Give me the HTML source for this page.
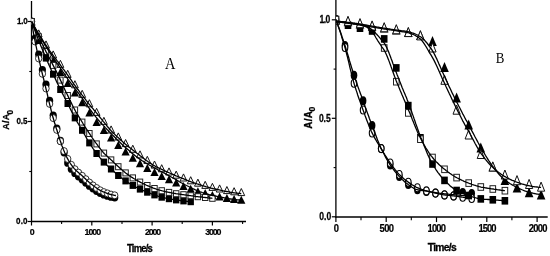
<!DOCTYPE html>
<html><head><meta charset="utf-8"><title>Figure</title>
<style>html,body{margin:0;padding:0;background:#fff;}svg{display:block;}</style>
</head><body>
<svg width="550" height="256" viewBox="0 0 550 256">
<rect width="550" height="256" fill="#fff"/>
<line x1="31.5" y1="1.0" x2="31.5" y2="222.1" stroke="#000" stroke-width="1.3"/>
<line x1="30.9" y1="221.5" x2="246.0" y2="221.5" stroke="#000" stroke-width="1.3"/>
<line x1="27.6" y1="21.5" x2="31.5" y2="21.5" stroke="#000" stroke-width="1.2"/>
<line x1="27.6" y1="121.5" x2="31.5" y2="121.5" stroke="#000" stroke-width="1.2"/>
<line x1="27.6" y1="221.5" x2="31.5" y2="221.5" stroke="#000" stroke-width="1.2"/>
<line x1="29.3" y1="171.5" x2="31.5" y2="171.5" stroke="#000" stroke-width="1.1"/>
<line x1="29.3" y1="71.5" x2="31.5" y2="71.5" stroke="#000" stroke-width="1.1"/>
<line x1="31.5" y1="221.5" x2="31.5" y2="225.5" stroke="#000" stroke-width="1.2"/>
<line x1="91.8" y1="221.5" x2="91.8" y2="225.5" stroke="#000" stroke-width="1.2"/>
<line x1="152.1" y1="221.5" x2="152.1" y2="225.5" stroke="#000" stroke-width="1.2"/>
<line x1="212.4" y1="221.5" x2="212.4" y2="225.5" stroke="#000" stroke-width="1.2"/>
<line x1="61.6" y1="221.5" x2="61.6" y2="224.0" stroke="#000" stroke-width="1.1"/>
<line x1="122.0" y1="221.5" x2="122.0" y2="224.0" stroke="#000" stroke-width="1.1"/>
<line x1="182.2" y1="221.5" x2="182.2" y2="224.0" stroke="#000" stroke-width="1.1"/>
<line x1="242.6" y1="221.5" x2="242.6" y2="224.0" stroke="#000" stroke-width="1.1"/>
<line x1="335.9" y1="0.0" x2="335.9" y2="217.6" stroke="#000" stroke-width="1.3"/>
<line x1="335.3" y1="217.0" x2="547.7" y2="217.0" stroke="#000" stroke-width="1.3"/>
<line x1="331.8" y1="19.8" x2="335.9" y2="19.8" stroke="#000" stroke-width="1.2"/>
<line x1="331.8" y1="118.3" x2="335.9" y2="118.3" stroke="#000" stroke-width="1.2"/>
<line x1="331.8" y1="216.8" x2="335.9" y2="216.8" stroke="#000" stroke-width="1.2"/>
<line x1="333.6" y1="167.6" x2="335.9" y2="167.6" stroke="#000" stroke-width="1.1"/>
<line x1="333.6" y1="69.1" x2="335.9" y2="69.1" stroke="#000" stroke-width="1.1"/>
<line x1="335.9" y1="217.0" x2="335.9" y2="222.1" stroke="#000" stroke-width="1.2"/>
<line x1="386.2" y1="217.0" x2="386.2" y2="222.1" stroke="#000" stroke-width="1.2"/>
<line x1="436.5" y1="217.0" x2="436.5" y2="222.1" stroke="#000" stroke-width="1.2"/>
<line x1="486.8" y1="217.0" x2="486.8" y2="222.1" stroke="#000" stroke-width="1.2"/>
<line x1="537.1" y1="217.0" x2="537.1" y2="222.1" stroke="#000" stroke-width="1.2"/>
<line x1="361.0" y1="217.0" x2="361.0" y2="220.2" stroke="#000" stroke-width="1.1"/>
<line x1="411.3" y1="217.0" x2="411.3" y2="220.2" stroke="#000" stroke-width="1.1"/>
<line x1="461.6" y1="217.0" x2="461.6" y2="220.2" stroke="#000" stroke-width="1.1"/>
<line x1="511.9" y1="217.0" x2="511.9" y2="220.2" stroke="#000" stroke-width="1.1"/>
<text transform="translate(17.09,24.2) scale(0.82,1)" font-family="'Liberation Sans', sans-serif" font-size="9.8" font-weight="bold" letter-spacing="-0.34" stroke="#000" stroke-width="0.25">1.0</text>
<text transform="translate(16.39,124.2) scale(0.82,1)" font-family="'Liberation Sans', sans-serif" font-size="9.8" font-weight="bold" letter-spacing="-0.09" stroke="#000" stroke-width="0.25">0.5</text>
<text transform="translate(16.09,224.2) scale(0.82,1)" font-family="'Liberation Sans', sans-serif" font-size="9.8" font-weight="bold" letter-spacing="0.09" stroke="#000" stroke-width="0.25">0.0</text>
<text transform="translate(29.76,235.0) scale(0.96,1)" font-family="'Liberation Sans', sans-serif" font-size="9.2" font-weight="bold" stroke="#000" stroke-width="0.2">0</text>
<text transform="translate(84.52,235.0) scale(0.96,1)" font-family="'Liberation Sans', sans-serif" font-size="9.2" font-weight="bold" letter-spacing="-1.05" stroke="#000" stroke-width="0.2">1000</text>
<text transform="translate(144.96,235.0) scale(0.96,1)" font-family="'Liberation Sans', sans-serif" font-size="9.2" font-weight="bold" letter-spacing="-1.17" stroke="#000" stroke-width="0.2">2000</text>
<text transform="translate(205.26,235.0) scale(0.96,1)" font-family="'Liberation Sans', sans-serif" font-size="9.2" font-weight="bold" letter-spacing="-1.17" stroke="#000" stroke-width="0.2">3000</text>
<text transform="translate(127.00,252.4) scale(0.88,1)" font-family="'Liberation Sans', sans-serif" font-size="10.7" font-weight="bold" letter-spacing="-0.88" stroke="#000" stroke-width="0.3">Time/s</text>
<text transform="translate(9.1,129.7) rotate(-90) scale(0.92,1)" font-family="'Liberation Sans', sans-serif" font-size="9.8" font-weight="bold" letter-spacing="0.19" stroke="#000" stroke-width="0.3">A/A</text>
<text transform="translate(12.8,114.4) rotate(-90) scale(0.95,1)" font-family="'Liberation Sans', sans-serif" font-size="8.6" font-weight="bold" stroke="#000" stroke-width="0.25">0</text>
<text transform="translate(165.08,69.2) scale(0.88,1)" font-family="'Liberation Serif', serif" font-size="16.4" font-weight="normal">A</text>
<text transform="translate(319.57,23.1) scale(0.84,1)" font-family="'Liberation Sans', sans-serif" font-size="10.2" font-weight="bold" letter-spacing="-0.79" stroke="#000" stroke-width="0.25">1.0</text>
<text transform="translate(318.88,121.6) scale(0.84,1)" font-family="'Liberation Sans', sans-serif" font-size="10.2" font-weight="bold" letter-spacing="-0.02" stroke="#000" stroke-width="0.25">0.5</text>
<text transform="translate(319.18,220.1) scale(0.84,1)" font-family="'Liberation Sans', sans-serif" font-size="10.2" font-weight="bold" letter-spacing="0.16" stroke="#000" stroke-width="0.25">0.0</text>
<text transform="translate(333.73,231.9) scale(0.94,1)" font-family="'Liberation Sans', sans-serif" font-size="10.0" font-weight="bold" stroke="#000" stroke-width="0.2">0</text>
<text transform="translate(379.53,231.9) scale(0.94,1)" font-family="'Liberation Sans', sans-serif" font-size="10.0" font-weight="bold" letter-spacing="-0.64" stroke="#000" stroke-width="0.2">500</text>
<text transform="translate(427.50,231.9) scale(0.94,1)" font-family="'Liberation Sans', sans-serif" font-size="10.0" font-weight="bold" letter-spacing="-0.87" stroke="#000" stroke-width="0.2">1000</text>
<text transform="translate(478.40,231.9) scale(0.94,1)" font-family="'Liberation Sans', sans-serif" font-size="10.0" font-weight="bold" letter-spacing="-1.01" stroke="#000" stroke-width="0.2">1500</text>
<text transform="translate(528.76,231.9) scale(0.94,1)" font-family="'Liberation Sans', sans-serif" font-size="10.0" font-weight="bold" letter-spacing="-0.78" stroke="#000" stroke-width="0.2">2000</text>
<text transform="translate(427.77,250.8) scale(0.92,1)" font-family="'Liberation Sans', sans-serif" font-size="11.2" font-weight="bold" letter-spacing="-0.77" stroke="#000" stroke-width="0.3">Time/s</text>
<text transform="translate(311.7,128.8) rotate(-90) scale(0.92,1)" font-family="'Liberation Sans', sans-serif" font-size="10.7" font-weight="bold" letter-spacing="0.36" stroke="#000" stroke-width="0.3">A/A</text>
<text transform="translate(314.6,111.4) rotate(-90) scale(0.95,1)" font-family="'Liberation Sans', sans-serif" font-size="9.0" font-weight="bold" stroke="#000" stroke-width="0.25">0</text>
<text transform="translate(495.78,63.1) scale(0.84,1)" font-family="'Liberation Serif', serif" font-size="15.4" font-weight="normal">B</text>
<clipPath id="ca"><rect x="31.5" y="0" width="215" height="221.5"/></clipPath><g clip-path="url(#ca)">
<path d="M31.5,17.5 L35.6,25.5 L27.4,25.5Z" fill="#000"/>
<path d="M38.7,31.5 L42.8,39.5 L34.6,39.5Z" fill="#000"/>
<path d="M46.0,44.5 L50.1,52.5 L41.9,52.5Z" fill="#000"/>
<path d="M53.2,56.5 L57.3,64.5 L49.1,64.5Z" fill="#000"/>
<path d="M60.4,68.0 L64.5,76.0 L56.3,76.0Z" fill="#000"/>
<path d="M67.7,78.9 L71.8,86.9 L63.6,86.9Z" fill="#000"/>
<path d="M74.9,88.5 L79.0,96.5 L70.8,96.5Z" fill="#000"/>
<path d="M82.2,98.3 L86.3,106.3 L78.1,106.3Z" fill="#000"/>
<path d="M89.4,108.5 L93.5,116.5 L85.3,116.5Z" fill="#000"/>
<path d="M96.6,117.9 L100.7,125.9 L92.5,125.9Z" fill="#000"/>
<path d="M103.9,126.1 L108.0,134.1 L99.8,134.1Z" fill="#000"/>
<path d="M111.1,133.5 L115.2,141.5 L107.0,141.5Z" fill="#000"/>
<path d="M118.3,140.9 L122.4,148.9 L114.2,148.9Z" fill="#000"/>
<path d="M125.6,147.5 L129.7,155.5 L121.5,155.5Z" fill="#000"/>
<path d="M132.8,153.8 L136.9,161.8 L128.7,161.8Z" fill="#000"/>
<path d="M140.0,159.3 L144.1,167.3 L135.9,167.3Z" fill="#000"/>
<path d="M147.3,163.9 L151.4,171.9 L143.2,171.9Z" fill="#000"/>
<path d="M154.5,167.9 L158.6,175.9 L150.4,175.9Z" fill="#000"/>
<path d="M161.7,171.9 L165.8,179.9 L157.6,179.9Z" fill="#000"/>
<path d="M169.0,175.2 L173.1,183.2 L164.9,183.2Z" fill="#000"/>
<path d="M176.2,178.5 L180.3,186.5 L172.1,186.5Z" fill="#000"/>
<path d="M183.5,181.9 L187.6,189.9 L179.4,189.9Z" fill="#000"/>
<path d="M190.7,184.7 L194.8,192.7 L186.6,192.7Z" fill="#000"/>
<path d="M197.9,187.3 L202.0,195.3 L193.8,195.3Z" fill="#000"/>
<path d="M205.2,189.1 L209.3,197.1 L201.1,197.1Z" fill="#000"/>
<path d="M212.4,190.9 L216.5,198.9 L208.3,198.9Z" fill="#000"/>
<path d="M219.6,192.4 L223.7,200.4 L215.5,200.4Z" fill="#000"/>
<path d="M226.9,193.9 L231.0,201.9 L222.8,201.9Z" fill="#000"/>
<path d="M234.1,195.0 L238.2,203.0 L230.0,203.0Z" fill="#000"/>
<path d="M241.3,195.7 L245.4,203.7 L237.2,203.7Z" fill="#000"/>
<path d="M31.5,17.9 L34.9,25.0 L28.1,25.0Z" fill="#fff" stroke="#111" stroke-width="1.0" stroke-linejoin="miter"/>
<path d="M38.7,29.9 L42.1,37.0 L35.3,37.0Z" fill="#fff" stroke="#111" stroke-width="1.0" stroke-linejoin="miter"/>
<path d="M46.0,40.9 L49.4,48.0 L42.6,48.0Z" fill="#fff" stroke="#111" stroke-width="1.0" stroke-linejoin="miter"/>
<path d="M53.2,50.9 L56.6,58.0 L49.8,58.0Z" fill="#fff" stroke="#111" stroke-width="1.0" stroke-linejoin="miter"/>
<path d="M60.4,60.3 L63.8,67.4 L57.0,67.4Z" fill="#fff" stroke="#111" stroke-width="1.0" stroke-linejoin="miter"/>
<path d="M67.7,70.3 L71.1,77.4 L64.3,77.4Z" fill="#fff" stroke="#111" stroke-width="1.0" stroke-linejoin="miter"/>
<path d="M74.9,80.7 L78.3,87.8 L71.5,87.8Z" fill="#fff" stroke="#111" stroke-width="1.0" stroke-linejoin="miter"/>
<path d="M82.2,90.3 L85.6,97.4 L78.8,97.4Z" fill="#fff" stroke="#111" stroke-width="1.0" stroke-linejoin="miter"/>
<path d="M89.4,99.7 L92.8,106.8 L86.0,106.8Z" fill="#fff" stroke="#111" stroke-width="1.0" stroke-linejoin="miter"/>
<path d="M96.6,108.3 L100.0,115.4 L93.2,115.4Z" fill="#fff" stroke="#111" stroke-width="1.0" stroke-linejoin="miter"/>
<path d="M103.9,117.3 L107.3,124.4 L100.5,124.4Z" fill="#fff" stroke="#111" stroke-width="1.0" stroke-linejoin="miter"/>
<path d="M111.1,125.9 L114.5,133.0 L107.7,133.0Z" fill="#fff" stroke="#111" stroke-width="1.0" stroke-linejoin="miter"/>
<path d="M118.3,132.9 L121.7,140.0 L114.9,140.0Z" fill="#fff" stroke="#111" stroke-width="1.0" stroke-linejoin="miter"/>
<path d="M125.6,139.5 L129.0,146.6 L122.2,146.6Z" fill="#fff" stroke="#111" stroke-width="1.0" stroke-linejoin="miter"/>
<path d="M132.8,145.2 L136.2,152.3 L129.4,152.3Z" fill="#fff" stroke="#111" stroke-width="1.0" stroke-linejoin="miter"/>
<path d="M140.0,150.8 L143.4,157.9 L136.6,157.9Z" fill="#fff" stroke="#111" stroke-width="1.0" stroke-linejoin="miter"/>
<path d="M147.3,156.3 L150.7,163.4 L143.9,163.4Z" fill="#fff" stroke="#111" stroke-width="1.0" stroke-linejoin="miter"/>
<path d="M154.5,161.0 L157.9,168.1 L151.1,168.1Z" fill="#fff" stroke="#111" stroke-width="1.0" stroke-linejoin="miter"/>
<path d="M161.7,164.7 L165.1,171.8 L158.3,171.8Z" fill="#fff" stroke="#111" stroke-width="1.0" stroke-linejoin="miter"/>
<path d="M169.0,167.9 L172.4,175.0 L165.6,175.0Z" fill="#fff" stroke="#111" stroke-width="1.0" stroke-linejoin="miter"/>
<path d="M176.2,171.1 L179.6,178.2 L172.8,178.2Z" fill="#fff" stroke="#111" stroke-width="1.0" stroke-linejoin="miter"/>
<path d="M183.5,173.9 L186.9,181.0 L180.1,181.0Z" fill="#fff" stroke="#111" stroke-width="1.0" stroke-linejoin="miter"/>
<path d="M190.7,176.7 L194.1,183.8 L187.3,183.8Z" fill="#fff" stroke="#111" stroke-width="1.0" stroke-linejoin="miter"/>
<path d="M197.9,179.1 L201.3,186.2 L194.5,186.2Z" fill="#fff" stroke="#111" stroke-width="1.0" stroke-linejoin="miter"/>
<path d="M205.2,181.3 L208.6,188.4 L201.8,188.4Z" fill="#fff" stroke="#111" stroke-width="1.0" stroke-linejoin="miter"/>
<path d="M212.4,183.3 L215.8,190.4 L209.0,190.4Z" fill="#fff" stroke="#111" stroke-width="1.0" stroke-linejoin="miter"/>
<path d="M219.6,184.9 L223.0,192.0 L216.2,192.0Z" fill="#fff" stroke="#111" stroke-width="1.0" stroke-linejoin="miter"/>
<path d="M226.9,186.5 L230.3,193.6 L223.5,193.6Z" fill="#fff" stroke="#111" stroke-width="1.0" stroke-linejoin="miter"/>
<path d="M234.1,187.7 L237.5,194.8 L230.7,194.8Z" fill="#fff" stroke="#111" stroke-width="1.0" stroke-linejoin="miter"/>
<path d="M241.3,188.5 L244.7,195.6 L237.9,195.6Z" fill="#fff" stroke="#111" stroke-width="1.0" stroke-linejoin="miter"/>
<ellipse cx="31.5" cy="21.5" rx="3.6" ry="3.9" fill="#000"/>
<ellipse cx="35.1" cy="38.5" rx="3.6" ry="3.9" fill="#000"/>
<ellipse cx="38.7" cy="54.5" rx="3.6" ry="3.9" fill="#000"/>
<ellipse cx="42.4" cy="69.8" rx="3.6" ry="3.9" fill="#000"/>
<ellipse cx="46.0" cy="84.5" rx="3.6" ry="3.9" fill="#000"/>
<ellipse cx="49.6" cy="100.7" rx="3.6" ry="3.9" fill="#000"/>
<ellipse cx="53.2" cy="115.5" rx="3.6" ry="3.9" fill="#000"/>
<ellipse cx="56.8" cy="128.3" rx="3.6" ry="3.9" fill="#000"/>
<ellipse cx="60.4" cy="140.7" rx="3.6" ry="3.9" fill="#000"/>
<ellipse cx="64.1" cy="152.5" rx="3.6" ry="3.9" fill="#000"/>
<ellipse cx="67.7" cy="162.9" rx="3.6" ry="3.9" fill="#000"/>
<ellipse cx="71.3" cy="168.9" rx="3.6" ry="3.9" fill="#000"/>
<ellipse cx="74.9" cy="173.2" rx="3.6" ry="3.9" fill="#000"/>
<ellipse cx="78.5" cy="176.6" rx="3.6" ry="3.9" fill="#000"/>
<ellipse cx="82.2" cy="179.6" rx="3.6" ry="3.9" fill="#000"/>
<ellipse cx="85.8" cy="182.8" rx="3.6" ry="3.9" fill="#000"/>
<ellipse cx="89.4" cy="185.9" rx="3.6" ry="3.9" fill="#000"/>
<ellipse cx="93.0" cy="188.5" rx="3.6" ry="3.9" fill="#000"/>
<ellipse cx="96.6" cy="191.0" rx="3.6" ry="3.9" fill="#000"/>
<ellipse cx="100.2" cy="193.1" rx="3.6" ry="3.9" fill="#000"/>
<ellipse cx="103.9" cy="194.7" rx="3.6" ry="3.9" fill="#000"/>
<ellipse cx="107.5" cy="195.9" rx="3.6" ry="3.9" fill="#000"/>
<ellipse cx="111.1" cy="196.9" rx="3.6" ry="3.9" fill="#000"/>
<ellipse cx="114.7" cy="197.6" rx="3.6" ry="3.9" fill="#000"/>
<ellipse cx="31.5" cy="21.5" rx="3.2" ry="3.5" fill="#fff" stroke="#000" stroke-width="0.8"/>
<ellipse cx="35.1" cy="41.5" rx="3.2" ry="3.5" fill="#fff" stroke="#000" stroke-width="0.8"/>
<ellipse cx="38.7" cy="58.5" rx="3.2" ry="3.5" fill="#fff" stroke="#000" stroke-width="0.8"/>
<ellipse cx="42.4" cy="73.8" rx="3.2" ry="3.5" fill="#fff" stroke="#000" stroke-width="0.8"/>
<ellipse cx="46.0" cy="88.5" rx="3.2" ry="3.5" fill="#fff" stroke="#000" stroke-width="0.8"/>
<ellipse cx="49.6" cy="103.9" rx="3.2" ry="3.5" fill="#fff" stroke="#000" stroke-width="0.8"/>
<ellipse cx="53.2" cy="118.1" rx="3.2" ry="3.5" fill="#fff" stroke="#000" stroke-width="0.8"/>
<ellipse cx="56.8" cy="129.9" rx="3.2" ry="3.5" fill="#fff" stroke="#000" stroke-width="0.8"/>
<ellipse cx="60.4" cy="141.3" rx="3.2" ry="3.5" fill="#fff" stroke="#000" stroke-width="0.8"/>
<ellipse cx="64.1" cy="151.1" rx="3.2" ry="3.5" fill="#fff" stroke="#000" stroke-width="0.8"/>
<ellipse cx="67.7" cy="158.9" rx="3.2" ry="3.5" fill="#fff" stroke="#000" stroke-width="0.8"/>
<ellipse cx="71.3" cy="164.8" rx="3.2" ry="3.5" fill="#fff" stroke="#000" stroke-width="0.8"/>
<ellipse cx="74.9" cy="169.2" rx="3.2" ry="3.5" fill="#fff" stroke="#000" stroke-width="0.8"/>
<ellipse cx="78.5" cy="172.6" rx="3.2" ry="3.5" fill="#fff" stroke="#000" stroke-width="0.8"/>
<ellipse cx="82.2" cy="175.8" rx="3.2" ry="3.5" fill="#fff" stroke="#000" stroke-width="0.8"/>
<ellipse cx="85.8" cy="179.2" rx="3.2" ry="3.5" fill="#fff" stroke="#000" stroke-width="0.8"/>
<ellipse cx="89.4" cy="182.5" rx="3.2" ry="3.5" fill="#fff" stroke="#000" stroke-width="0.8"/>
<ellipse cx="93.0" cy="185.4" rx="3.2" ry="3.5" fill="#fff" stroke="#000" stroke-width="0.8"/>
<ellipse cx="96.6" cy="188.0" rx="3.2" ry="3.5" fill="#fff" stroke="#000" stroke-width="0.8"/>
<ellipse cx="100.2" cy="190.3" rx="3.2" ry="3.5" fill="#fff" stroke="#000" stroke-width="0.8"/>
<ellipse cx="103.9" cy="192.1" rx="3.2" ry="3.5" fill="#fff" stroke="#000" stroke-width="0.8"/>
<ellipse cx="107.5" cy="193.4" rx="3.2" ry="3.5" fill="#fff" stroke="#000" stroke-width="0.8"/>
<ellipse cx="111.1" cy="194.6" rx="3.2" ry="3.5" fill="#fff" stroke="#000" stroke-width="0.8"/>
<ellipse cx="114.7" cy="195.3" rx="3.2" ry="3.5" fill="#fff" stroke="#000" stroke-width="0.8"/>
<rect x="28.3" y="18.0" width="6.4" height="7.0" fill="#000"/>
<rect x="35.5" y="37.0" width="6.4" height="7.0" fill="#000"/>
<rect x="42.8" y="54.6" width="6.4" height="7.0" fill="#000"/>
<rect x="50.0" y="70.7" width="6.4" height="7.0" fill="#000"/>
<rect x="57.2" y="86.0" width="6.4" height="7.0" fill="#000"/>
<rect x="64.5" y="100.0" width="6.4" height="7.0" fill="#000"/>
<rect x="71.7" y="114.4" width="6.4" height="7.0" fill="#000"/>
<rect x="79.0" y="126.8" width="6.4" height="7.0" fill="#000"/>
<rect x="86.2" y="139.4" width="6.4" height="7.0" fill="#000"/>
<rect x="93.4" y="150.0" width="6.4" height="7.0" fill="#000"/>
<rect x="100.7" y="158.6" width="6.4" height="7.0" fill="#000"/>
<rect x="107.9" y="165.5" width="6.4" height="7.0" fill="#000"/>
<rect x="115.1" y="172.0" width="6.4" height="7.0" fill="#000"/>
<rect x="122.4" y="177.4" width="6.4" height="7.0" fill="#000"/>
<rect x="129.6" y="181.9" width="6.4" height="7.0" fill="#000"/>
<rect x="136.8" y="185.6" width="6.4" height="7.0" fill="#000"/>
<rect x="144.1" y="188.7" width="6.4" height="7.0" fill="#000"/>
<rect x="151.3" y="191.4" width="6.4" height="7.0" fill="#000"/>
<rect x="158.5" y="193.7" width="6.4" height="7.0" fill="#000"/>
<rect x="165.8" y="195.2" width="6.4" height="7.0" fill="#000"/>
<rect x="173.0" y="196.4" width="6.4" height="7.0" fill="#000"/>
<rect x="180.3" y="197.4" width="6.4" height="7.0" fill="#000"/>
<rect x="187.5" y="198.2" width="6.4" height="7.0" fill="#000"/>
<rect x="28.8" y="18.5" width="5.4" height="6.0" fill="#fff" stroke="#222" stroke-width="1.0"/>
<rect x="36.0" y="33.8" width="5.4" height="6.0" fill="#fff" stroke="#222" stroke-width="1.0"/>
<rect x="43.3" y="48.5" width="5.4" height="6.0" fill="#fff" stroke="#222" stroke-width="1.0"/>
<rect x="50.5" y="62.4" width="5.4" height="6.0" fill="#fff" stroke="#222" stroke-width="1.0"/>
<rect x="57.7" y="77.1" width="5.4" height="6.0" fill="#fff" stroke="#222" stroke-width="1.0"/>
<rect x="65.0" y="92.5" width="5.4" height="6.0" fill="#fff" stroke="#222" stroke-width="1.0"/>
<rect x="72.2" y="107.0" width="5.4" height="6.0" fill="#fff" stroke="#222" stroke-width="1.0"/>
<rect x="79.5" y="119.1" width="5.4" height="6.0" fill="#fff" stroke="#222" stroke-width="1.0"/>
<rect x="86.7" y="130.5" width="5.4" height="6.0" fill="#fff" stroke="#222" stroke-width="1.0"/>
<rect x="93.9" y="140.9" width="5.4" height="6.0" fill="#fff" stroke="#222" stroke-width="1.0"/>
<rect x="101.2" y="150.1" width="5.4" height="6.0" fill="#fff" stroke="#222" stroke-width="1.0"/>
<rect x="108.4" y="156.9" width="5.4" height="6.0" fill="#fff" stroke="#222" stroke-width="1.0"/>
<rect x="115.6" y="163.7" width="5.4" height="6.0" fill="#fff" stroke="#222" stroke-width="1.0"/>
<rect x="122.9" y="169.9" width="5.4" height="6.0" fill="#fff" stroke="#222" stroke-width="1.0"/>
<rect x="130.1" y="174.9" width="5.4" height="6.0" fill="#fff" stroke="#222" stroke-width="1.0"/>
<rect x="137.3" y="179.1" width="5.4" height="6.0" fill="#fff" stroke="#222" stroke-width="1.0"/>
<rect x="144.6" y="182.5" width="5.4" height="6.0" fill="#fff" stroke="#222" stroke-width="1.0"/>
<rect x="151.8" y="185.5" width="5.4" height="6.0" fill="#fff" stroke="#222" stroke-width="1.0"/>
<rect x="159.0" y="187.7" width="5.4" height="6.0" fill="#fff" stroke="#222" stroke-width="1.0"/>
<rect x="166.3" y="189.4" width="5.4" height="6.0" fill="#fff" stroke="#222" stroke-width="1.0"/>
<rect x="173.5" y="190.7" width="5.4" height="6.0" fill="#fff" stroke="#222" stroke-width="1.0"/>
<rect x="180.8" y="191.7" width="5.4" height="6.0" fill="#fff" stroke="#222" stroke-width="1.0"/>
<rect x="188.0" y="192.7" width="5.4" height="6.0" fill="#fff" stroke="#222" stroke-width="1.0"/>
<rect x="195.2" y="193.7" width="5.4" height="6.0" fill="#fff" stroke="#222" stroke-width="1.0"/>
<rect x="202.5" y="194.5" width="5.4" height="6.0" fill="#fff" stroke="#222" stroke-width="1.0"/>
<rect x="209.7" y="195.3" width="5.4" height="6.0" fill="#fff" stroke="#222" stroke-width="1.0"/>
<rect x="28.8" y="18.5" width="5.4" height="6.0" fill="#fff" stroke="#222" stroke-width="1.0"/>
<path d="M31.5,21.5 L32.6,23.5 L33.6,25.4 L34.7,27.3 L35.7,29.2 L36.8,31.1 L37.8,33.0 L38.9,34.8 L39.9,36.6 L41.0,38.4 L42.0,40.2 L43.1,41.9 L44.2,43.6 L45.2,45.4 L46.3,47.0 L47.3,48.7 L48.4,50.3 L49.4,52.0 L50.5,53.6 L51.5,55.1 L52.6,56.7 L53.6,58.3 L54.7,59.9 L55.8,61.4 L56.8,62.9 L57.9,64.5 L58.9,66.0 L60.0,67.5 L61.0,69.0 L62.1,70.5 L63.1,72.1 L64.2,73.7 L65.2,75.3 L66.3,76.9 L67.4,78.4 L68.4,79.9 L69.5,81.3 L70.5,82.7 L71.6,84.1 L72.6,85.5 L73.7,86.9 L74.7,88.3 L75.8,89.7 L76.8,91.1 L77.9,92.5 L79.0,93.9 L80.0,95.4 L81.1,96.8 L82.1,98.2 L83.2,99.7 L84.2,101.2 L85.3,102.7 L86.3,104.2 L87.4,105.7 L88.4,107.2 L89.5,108.6 L90.6,110.1 L91.6,111.5 L92.7,112.9 L93.7,114.3 L94.8,115.6 L95.8,116.9 L96.9,118.2 L97.9,119.5 L99.0,120.7 L100.0,121.9 L101.1,123.1 L102.2,124.2 L103.2,125.4 L104.3,126.5 L105.3,127.6 L106.4,128.7 L107.4,129.8 L108.5,130.9 L109.5,131.9 L110.6,133.0 L111.6,134.1 L112.7,135.2 L113.8,136.3 L114.8,137.3 L115.9,138.4 L116.9,139.5 L118.0,140.5 L119.0,141.6 L120.1,142.6 L121.1,143.5 L122.2,144.5 L123.2,145.4 L124.3,146.4 L125.3,147.3 L126.4,148.2 L127.5,149.2 L128.5,150.1 L129.6,151.1 L130.6,152.0 L131.7,152.9 L132.7,153.7 L133.8,154.6 L134.8,155.4 L135.9,156.3 L136.9,157.1 L138.0,157.8 L139.1,158.6 L140.1,159.4 L141.2,160.1 L142.2,160.8 L143.3,161.4 L144.3,162.1 L145.4,162.8 L146.4,163.4 L147.5,164.0 L148.5,164.6 L149.6,165.2 L150.7,165.8 L151.7,166.4 L152.8,166.9 L153.8,167.5 L154.9,168.1 L155.9,168.7 L157.0,169.3 L158.0,169.9 L159.1,170.5 L160.1,171.1 L161.2,171.6 L162.3,172.2 L163.3,172.7 L164.4,173.2 L165.4,173.7 L166.5,174.3 L167.5,174.9 L168.6,175.5 L169.6,176.1 L170.7,176.7 L171.7,177.3 L172.8,177.9 L173.9,178.4 L174.9,179.0 L176.0,179.6 L177.0,180.2 L178.1,180.9 L179.1,181.5 L180.2,182.1 L181.2,182.7 L182.3,183.3 L183.3,183.9 L184.4,184.5 L185.5,185.0 L186.5,185.5 L187.6,186.0 L188.6,186.5 L189.7,187.0 L190.7,187.5 L191.8,188.1 L192.8,188.6 L193.9,189.1 L194.9,189.6 L196.0,190.1 L197.1,190.5 L198.1,191.0 L199.2,191.4 L200.2,191.8 L201.3,192.1 L202.3,192.5 L203.4,192.9 L204.4,193.2 L205.5,193.6 L206.5,193.9 L207.6,194.2 L208.7,194.5 L209.7,194.8 L210.8,195.0 L211.8,195.3 L212.9,195.5 L213.9,195.7 L215.0,196.0 L216.0,196.2 L217.1,196.4 L218.1,196.6 L219.2,196.8 L220.3,197.0 L221.3,197.3 L222.4,197.5 L223.4,197.7 L224.5,197.9 L225.5,198.1 L226.6,198.3 L227.6,198.5 L228.7,198.7 L229.7,198.9 L230.8,199.0 L231.9,199.2 L232.9,199.3 L234.0,199.5 L235.0,199.6 L236.1,199.7 L237.1,199.8 L238.2,199.9 L239.2,200.0 L240.3,200.1 L241.3,200.2" fill="none" stroke="#000" stroke-width="1.3" stroke-linejoin="round"/>
<path d="M31.5,21.5 L32.6,23.4 L33.6,25.2 L34.7,27.0 L35.7,28.8 L36.8,30.6 L37.8,32.4 L38.9,34.1 L39.9,35.8 L41.0,37.5 L42.0,39.2 L43.1,40.8 L44.2,42.5 L45.2,44.1 L46.3,45.7 L47.3,47.2 L48.4,48.7 L49.4,50.3 L50.5,51.8 L51.5,53.2 L52.6,54.7 L53.6,56.2 L54.7,57.6 L55.8,59.0 L56.8,60.4 L57.9,61.7 L58.9,63.1 L60.0,64.5 L61.0,65.9 L62.1,67.3 L63.1,68.8 L64.2,70.2 L65.2,71.7 L66.3,73.2 L67.4,74.6 L68.4,76.1 L69.5,77.7 L70.5,79.2 L71.6,80.7 L72.6,82.3 L73.7,83.8 L74.7,85.2 L75.8,86.7 L76.8,88.1 L77.9,89.5 L79.0,90.9 L80.0,92.3 L81.1,93.7 L82.1,95.1 L83.2,96.4 L84.2,97.8 L85.3,99.2 L86.3,100.6 L87.4,102.0 L88.4,103.3 L89.5,104.6 L90.6,105.9 L91.6,107.2 L92.7,108.4 L93.7,109.7 L94.8,110.9 L95.8,112.1 L96.9,113.4 L97.9,114.7 L99.0,116.0 L100.0,117.3 L101.1,118.7 L102.2,120.0 L103.2,121.3 L104.3,122.6 L105.3,123.9 L106.4,125.2 L107.4,126.5 L108.5,127.7 L109.5,129.0 L110.6,130.1 L111.6,131.3 L112.7,132.4 L113.8,133.4 L114.8,134.4 L115.9,135.4 L116.9,136.4 L118.0,137.4 L119.0,138.3 L120.1,139.3 L121.1,140.3 L122.2,141.3 L123.2,142.3 L124.3,143.2 L125.3,144.1 L126.4,145.0 L127.5,145.9 L128.5,146.7 L129.6,147.5 L130.6,148.3 L131.7,149.1 L132.7,149.9 L133.8,150.8 L134.8,151.6 L135.9,152.4 L136.9,153.2 L138.0,154.0 L139.1,154.8 L140.1,155.7 L141.2,156.5 L142.2,157.3 L143.3,158.1 L144.3,158.9 L145.4,159.7 L146.4,160.5 L147.5,161.3 L148.5,162.0 L149.6,162.7 L150.7,163.4 L151.7,164.1 L152.8,164.8 L153.8,165.4 L154.9,166.0 L155.9,166.6 L157.0,167.2 L158.0,167.7 L159.1,168.2 L160.1,168.7 L161.2,169.2 L162.3,169.7 L163.3,170.2 L164.4,170.7 L165.4,171.2 L166.5,171.6 L167.5,172.1 L168.6,172.5 L169.6,173.0 L170.7,173.5 L171.7,173.9 L172.8,174.4 L173.9,174.9 L174.9,175.3 L176.0,175.8 L177.0,176.2 L178.1,176.7 L179.1,177.1 L180.2,177.5 L181.2,177.9 L182.3,178.3 L183.3,178.7 L184.4,179.2 L185.5,179.6 L186.5,180.0 L187.6,180.5 L188.6,180.9 L189.7,181.3 L190.7,181.7 L191.8,182.1 L192.8,182.5 L193.9,182.8 L194.9,183.2 L196.0,183.5 L197.1,183.9 L198.1,184.2 L199.2,184.6 L200.2,184.9 L201.3,185.2 L202.3,185.6 L203.4,185.9 L204.4,186.2 L205.5,186.5 L206.5,186.8 L207.6,187.1 L208.7,187.4 L209.7,187.7 L210.8,188.0 L211.8,188.3 L212.9,188.5 L213.9,188.8 L215.0,189.0 L216.0,189.2 L217.1,189.5 L218.1,189.7 L219.2,189.9 L220.3,190.1 L221.3,190.4 L222.4,190.6 L223.4,190.9 L224.5,191.1 L225.5,191.3 L226.6,191.5 L227.6,191.7 L228.7,191.9 L229.7,192.1 L230.8,192.3 L231.9,192.5 L232.9,192.6 L234.0,192.8 L235.0,192.9 L236.1,193.1 L237.1,193.2 L238.2,193.3 L239.2,193.4 L240.3,193.5 L241.3,193.6" fill="none" stroke="#000" stroke-width="1.3" stroke-linejoin="round"/>
<path d="M31.5,21.5 L31.9,24.0 L32.3,26.5 L32.8,28.9 L33.2,31.3 L33.6,33.6 L34.0,35.9 L34.5,38.2 L34.9,40.4 L35.3,42.5 L35.7,44.6 L36.2,46.7 L36.6,48.7 L37.0,50.7 L37.4,52.7 L37.9,54.6 L38.3,56.5 L38.7,58.4 L39.1,60.3 L39.6,62.1 L40.0,63.9 L40.4,65.7 L40.8,67.5 L41.3,69.3 L41.7,71.0 L42.1,72.8 L42.5,74.5 L43.0,76.3 L43.4,78.0 L43.8,79.7 L44.2,81.4 L44.7,83.1 L45.1,84.8 L45.5,86.6 L45.9,88.3 L46.3,90.1 L46.8,91.9 L47.2,93.7 L47.6,95.5 L48.0,97.4 L48.5,99.2 L48.9,101.0 L49.3,102.8 L49.7,104.5 L50.2,106.3 L50.6,108.0 L51.0,109.7 L51.4,111.4 L51.9,113.1 L52.3,114.7 L52.7,116.3 L53.1,117.8 L53.6,119.3 L54.0,120.8 L54.4,122.2 L54.8,123.6 L55.3,124.9 L55.7,126.3 L56.1,127.6 L56.5,129.0 L57.0,130.3 L57.4,131.7 L57.8,133.0 L58.2,134.4 L58.7,135.8 L59.1,137.1 L59.5,138.5 L59.9,139.8 L60.3,141.0 L60.8,142.3 L61.2,143.5 L61.6,144.7 L62.0,145.9 L62.5,147.0 L62.9,148.1 L63.3,149.3 L63.7,150.3 L64.2,151.3 L64.6,152.4 L65.0,153.3 L65.4,154.3 L65.9,155.3 L66.3,156.2 L66.7,157.0 L67.1,157.9 L67.6,158.7 L68.0,159.4 L68.4,160.2 L68.8,160.9 L69.3,161.6 L69.7,162.3 L70.1,163.0 L70.5,163.6 L71.0,164.3 L71.4,164.9 L71.8,165.5 L72.2,166.0 L72.6,166.6 L73.1,167.1 L73.5,167.7 L73.9,168.1 L74.3,168.6 L74.8,169.1 L75.2,169.5 L75.6,170.0 L76.0,170.4 L76.5,170.8 L76.9,171.2 L77.3,171.6 L77.7,171.9 L78.2,172.3 L78.6,172.7 L79.0,173.1 L79.4,173.4 L79.9,173.8 L80.3,174.1 L80.7,174.5 L81.1,174.9 L81.6,175.2 L82.0,175.6 L82.4,176.0 L82.8,176.4 L83.3,176.8 L83.7,177.2 L84.1,177.6 L84.5,178.0 L85.0,178.4 L85.4,178.8 L85.8,179.2 L86.2,179.6 L86.6,180.0 L87.1,180.4 L87.5,180.8 L87.9,181.2 L88.3,181.6 L88.8,182.0 L89.2,182.4 L89.6,182.7 L90.0,183.1 L90.5,183.4 L90.9,183.8 L91.3,184.1 L91.7,184.5 L92.2,184.8 L92.6,185.1 L93.0,185.4 L93.4,185.7 L93.9,186.0 L94.3,186.4 L94.7,186.7 L95.1,187.0 L95.6,187.3 L96.0,187.6 L96.4,187.9 L96.8,188.2 L97.3,188.5 L97.7,188.7 L98.1,189.0 L98.5,189.3 L99.0,189.6 L99.4,189.8 L99.8,190.1 L100.2,190.3 L100.6,190.6 L101.1,190.8 L101.5,191.0 L101.9,191.2 L102.3,191.4 L102.8,191.6 L103.2,191.8 L103.6,192.0 L104.0,192.2 L104.5,192.3 L104.9,192.5 L105.3,192.7 L105.7,192.8 L106.2,193.0 L106.6,193.1 L107.0,193.3 L107.4,193.4 L107.9,193.6 L108.3,193.7 L108.7,193.9 L109.1,194.0 L109.6,194.1 L110.0,194.3 L110.4,194.4 L110.8,194.5 L111.3,194.6 L111.7,194.7 L112.1,194.8 L112.5,194.9 L113.0,195.0 L113.4,195.1 L113.8,195.2 L114.2,195.3 L114.6,195.3 L115.1,195.4 L115.5,195.5 L115.9,195.5" fill="none" stroke="#000" stroke-width="1.3" stroke-linejoin="round"/>
<path d="M31.5,21.5 L32.3,23.7 L33.1,25.8 L33.9,28.0 L34.7,30.1 L35.5,32.2 L36.3,34.3 L37.1,36.3 L37.9,38.4 L38.7,40.4 L39.5,42.4 L40.3,44.4 L41.1,46.4 L41.9,48.3 L42.7,50.3 L43.5,52.2 L44.3,54.1 L45.1,56.0 L45.9,57.9 L46.7,59.8 L47.5,61.6 L48.3,63.4 L49.1,65.2 L49.9,67.0 L50.7,68.7 L51.5,70.5 L52.3,72.2 L53.1,74.0 L53.9,75.7 L54.7,77.4 L55.5,79.1 L56.3,80.9 L57.1,82.6 L57.9,84.2 L58.7,85.9 L59.5,87.6 L60.3,89.2 L61.1,90.8 L61.9,92.4 L62.7,93.9 L63.5,95.5 L64.3,97.0 L65.1,98.5 L65.9,100.1 L66.7,101.6 L67.5,103.1 L68.3,104.7 L69.1,106.3 L69.9,108.0 L70.7,109.6 L71.5,111.2 L72.3,112.8 L73.1,114.4 L73.9,116.0 L74.7,117.5 L75.5,119.0 L76.3,120.4 L77.1,121.8 L77.9,123.1 L78.7,124.5 L79.5,125.8 L80.3,127.2 L81.1,128.5 L81.9,129.9 L82.7,131.2 L83.5,132.7 L84.3,134.1 L85.1,135.5 L85.9,136.9 L86.7,138.4 L87.5,139.8 L88.3,141.1 L89.1,142.4 L89.9,143.7 L90.7,145.0 L91.5,146.2 L92.3,147.4 L93.1,148.6 L93.9,149.7 L94.7,150.9 L95.5,152.0 L96.3,153.1 L97.1,154.1 L97.9,155.1 L98.7,156.1 L99.5,157.1 L100.3,158.1 L101.1,159.0 L101.9,160.0 L102.7,160.8 L103.5,161.7 L104.3,162.6 L105.1,163.4 L105.9,164.2 L106.7,164.9 L107.5,165.7 L108.3,166.4 L109.1,167.2 L109.9,167.9 L110.7,168.6 L111.5,169.4 L112.3,170.1 L113.1,170.9 L113.9,171.6 L114.7,172.3 L115.5,173.1 L116.3,173.8 L117.1,174.5 L117.9,175.1 L118.7,175.8 L119.5,176.4 L120.3,177.1 L121.1,177.7 L121.9,178.3 L122.7,178.9 L123.5,179.5 L124.3,180.0 L125.1,180.6 L125.9,181.1 L126.7,181.7 L127.5,182.2 L128.3,182.7 L129.1,183.2 L129.9,183.7 L130.7,184.2 L131.5,184.6 L132.3,185.1 L133.1,185.5 L133.9,186.0 L134.7,186.4 L135.5,186.8 L136.3,187.3 L137.1,187.7 L137.9,188.1 L138.7,188.5 L139.5,188.8 L140.3,189.2 L141.1,189.6 L141.9,189.9 L142.7,190.3 L143.5,190.6 L144.3,191.0 L145.1,191.3 L145.9,191.7 L146.7,192.0 L147.5,192.3 L148.3,192.6 L149.1,192.9 L149.9,193.2 L150.7,193.5 L151.5,193.8 L152.3,194.1 L153.1,194.4 L153.9,194.7 L154.7,195.0 L155.5,195.2 L156.3,195.5 L157.1,195.8 L157.9,196.1 L158.7,196.3 L159.5,196.6 L160.3,196.8 L161.1,197.0 L161.9,197.2 L162.7,197.4 L163.5,197.6 L164.3,197.8 L165.1,198.0 L165.9,198.1 L166.7,198.3 L167.5,198.4 L168.3,198.6 L169.1,198.7 L169.9,198.9 L170.7,199.0 L171.5,199.1 L172.3,199.3 L173.1,199.4 L173.9,199.5 L174.7,199.7 L175.5,199.8 L176.3,199.9 L177.1,200.0 L177.9,200.1 L178.7,200.3 L179.5,200.4 L180.3,200.5 L181.1,200.6 L181.9,200.7 L182.7,200.8 L183.5,200.9 L184.3,201.0 L185.1,201.1 L185.9,201.2 L186.7,201.3 L187.5,201.4 L188.3,201.5 L189.1,201.5 L189.9,201.6 L190.7,201.7" fill="none" stroke="#000" stroke-width="1.3" stroke-linejoin="round"/>
<path d="M31.5,21.5 L32.4,23.5 L33.3,25.4 L34.2,27.3 L35.1,29.2 L36.0,31.2 L37.0,33.1 L37.9,35.0 L38.8,36.9 L39.7,38.7 L40.6,40.6 L41.5,42.5 L42.4,44.3 L43.3,46.2 L44.2,48.0 L45.1,49.8 L46.0,51.6 L47.0,53.4 L47.9,55.2 L48.8,57.0 L49.7,58.7 L50.6,60.4 L51.5,62.2 L52.4,63.9 L53.3,65.6 L54.2,67.4 L55.1,69.1 L56.0,70.9 L57.0,72.8 L57.9,74.6 L58.8,76.5 L59.7,78.4 L60.6,80.4 L61.5,82.3 L62.4,84.3 L63.3,86.3 L64.2,88.2 L65.1,90.2 L66.0,92.1 L67.0,94.0 L67.9,95.9 L68.8,97.8 L69.7,99.6 L70.6,101.5 L71.5,103.4 L72.4,105.2 L73.3,107.0 L74.2,108.7 L75.1,110.4 L76.0,112.0 L77.0,113.6 L77.9,115.1 L78.8,116.6 L79.7,118.1 L80.6,119.6 L81.5,121.0 L82.4,122.5 L83.3,124.0 L84.2,125.4 L85.1,126.9 L86.0,128.3 L87.0,129.8 L87.9,131.2 L88.8,132.6 L89.7,133.9 L90.6,135.3 L91.5,136.6 L92.4,138.0 L93.3,139.3 L94.2,140.6 L95.1,141.9 L96.0,143.1 L97.0,144.3 L97.9,145.6 L98.8,146.8 L99.7,148.0 L100.6,149.2 L101.5,150.3 L102.4,151.4 L103.3,152.5 L104.2,153.5 L105.1,154.4 L106.0,155.3 L107.0,156.1 L107.9,157.0 L108.8,157.8 L109.7,158.6 L110.6,159.4 L111.5,160.3 L112.4,161.1 L113.3,162.0 L114.2,162.9 L115.1,163.7 L116.0,164.6 L117.0,165.4 L117.9,166.3 L118.8,167.1 L119.7,167.9 L120.6,168.7 L121.5,169.5 L122.4,170.3 L123.3,171.1 L124.2,171.8 L125.1,172.6 L126.0,173.3 L126.9,173.9 L127.9,174.6 L128.8,175.2 L129.7,175.9 L130.6,176.5 L131.5,177.1 L132.4,177.6 L133.3,178.2 L134.2,178.8 L135.1,179.3 L136.0,179.9 L136.9,180.4 L137.9,180.9 L138.8,181.4 L139.7,181.9 L140.6,182.4 L141.5,182.8 L142.4,183.3 L143.3,183.7 L144.2,184.1 L145.1,184.5 L146.0,185.0 L146.9,185.4 L147.9,185.8 L148.8,186.2 L149.7,186.6 L150.6,186.9 L151.5,187.3 L152.4,187.7 L153.3,188.1 L154.2,188.4 L155.1,188.7 L156.0,189.0 L156.9,189.3 L157.9,189.6 L158.8,189.9 L159.7,190.1 L160.6,190.4 L161.5,190.6 L162.4,190.9 L163.3,191.1 L164.2,191.3 L165.1,191.5 L166.0,191.8 L166.9,192.0 L167.9,192.2 L168.8,192.4 L169.7,192.5 L170.6,192.7 L171.5,192.9 L172.4,193.1 L173.3,193.2 L174.2,193.4 L175.1,193.5 L176.0,193.7 L176.9,193.8 L177.9,193.9 L178.8,194.1 L179.7,194.2 L180.6,194.3 L181.5,194.4 L182.4,194.6 L183.3,194.7 L184.2,194.8 L185.1,194.9 L186.0,195.1 L186.9,195.2 L187.9,195.3 L188.8,195.4 L189.7,195.6 L190.6,195.7 L191.5,195.8 L192.4,195.9 L193.3,196.1 L194.2,196.2 L195.1,196.3 L196.0,196.5 L196.9,196.6 L197.9,196.7 L198.8,196.8 L199.7,196.9 L200.6,197.0 L201.5,197.1 L202.4,197.2 L203.3,197.3 L204.2,197.4 L205.1,197.5 L206.0,197.6 L206.9,197.7 L207.9,197.8 L208.8,197.9 L209.7,198.0 L210.6,198.1 L211.5,198.2 L212.4,198.3" fill="none" stroke="#000" stroke-width="1.3" stroke-linejoin="round"/>
</g>
<clipPath id="cb"><rect x="335.9" y="0" width="212" height="217"/></clipPath><g clip-path="url(#cb)">
<ellipse cx="335.9" cy="19.6" rx="3.3" ry="4.5" fill="#000"/>
<ellipse cx="345.0" cy="45.5" rx="3.3" ry="4.5" fill="#000"/>
<ellipse cx="354.0" cy="75.3" rx="3.3" ry="4.5" fill="#000"/>
<ellipse cx="363.1" cy="100.8" rx="3.3" ry="4.5" fill="#000"/>
<ellipse cx="372.1" cy="125.6" rx="3.3" ry="4.5" fill="#000"/>
<ellipse cx="381.2" cy="148.4" rx="3.3" ry="4.5" fill="#000"/>
<ellipse cx="390.2" cy="164.9" rx="3.3" ry="4.5" fill="#000"/>
<ellipse cx="399.3" cy="176.5" rx="3.3" ry="4.5" fill="#000"/>
<ellipse cx="408.3" cy="184.6" rx="3.3" ry="4.5" fill="#000"/>
<ellipse cx="417.4" cy="189.8" rx="3.3" ry="4.5" fill="#000"/>
<ellipse cx="426.4" cy="191.6" rx="3.3" ry="4.5" fill="#000"/>
<ellipse cx="435.5" cy="193.1" rx="3.3" ry="4.5" fill="#000"/>
<ellipse cx="444.5" cy="194.9" rx="3.3" ry="4.5" fill="#000"/>
<ellipse cx="453.6" cy="195.9" rx="3.3" ry="4.5" fill="#000"/>
<ellipse cx="462.7" cy="192.6" rx="3.3" ry="4.5" fill="#000"/>
<ellipse cx="471.7" cy="193.4" rx="3.3" ry="4.5" fill="#000"/>
<ellipse cx="335.9" cy="19.6" rx="2.8" ry="4.0" fill="#fff" stroke="#000" stroke-width="1.1"/>
<ellipse cx="345.0" cy="47.5" rx="2.8" ry="4.0" fill="#fff" stroke="#000" stroke-width="1.1"/>
<ellipse cx="354.0" cy="83.2" rx="2.8" ry="4.0" fill="#fff" stroke="#000" stroke-width="1.1"/>
<ellipse cx="363.1" cy="110.0" rx="2.8" ry="4.0" fill="#fff" stroke="#000" stroke-width="1.1"/>
<ellipse cx="372.1" cy="133.0" rx="2.8" ry="4.0" fill="#fff" stroke="#000" stroke-width="1.1"/>
<ellipse cx="381.2" cy="148.6" rx="2.8" ry="4.0" fill="#fff" stroke="#000" stroke-width="1.1"/>
<ellipse cx="390.2" cy="163.0" rx="2.8" ry="4.0" fill="#fff" stroke="#000" stroke-width="1.1"/>
<ellipse cx="399.3" cy="174.5" rx="2.8" ry="4.0" fill="#fff" stroke="#000" stroke-width="1.1"/>
<ellipse cx="408.3" cy="182.2" rx="2.8" ry="4.0" fill="#fff" stroke="#000" stroke-width="1.1"/>
<ellipse cx="417.4" cy="187.7" rx="2.8" ry="4.0" fill="#fff" stroke="#000" stroke-width="1.1"/>
<ellipse cx="426.4" cy="190.9" rx="2.8" ry="4.0" fill="#fff" stroke="#000" stroke-width="1.1"/>
<ellipse cx="435.5" cy="193.1" rx="2.8" ry="4.0" fill="#fff" stroke="#000" stroke-width="1.1"/>
<ellipse cx="444.5" cy="194.9" rx="2.8" ry="4.0" fill="#fff" stroke="#000" stroke-width="1.1"/>
<ellipse cx="453.6" cy="195.9" rx="2.8" ry="4.0" fill="#fff" stroke="#000" stroke-width="1.1"/>
<ellipse cx="462.7" cy="197.2" rx="2.8" ry="4.0" fill="#fff" stroke="#000" stroke-width="1.1"/>
<ellipse cx="471.7" cy="198.5" rx="2.8" ry="4.0" fill="#fff" stroke="#000" stroke-width="1.1"/>
<rect x="332.6" y="15.8" width="6.6" height="7.6" fill="#000"/>
<rect x="344.7" y="21.4" width="6.6" height="7.6" fill="#000"/>
<rect x="356.7" y="24.4" width="6.6" height="7.6" fill="#000"/>
<rect x="368.8" y="27.2" width="6.6" height="7.6" fill="#000"/>
<rect x="380.9" y="35.1" width="6.6" height="7.6" fill="#000"/>
<rect x="393.0" y="64.1" width="6.6" height="7.6" fill="#000"/>
<rect x="405.0" y="101.8" width="6.6" height="7.6" fill="#000"/>
<rect x="417.1" y="134.0" width="6.6" height="7.6" fill="#000"/>
<rect x="429.2" y="160.2" width="6.6" height="7.6" fill="#000"/>
<rect x="441.2" y="176.6" width="6.6" height="7.6" fill="#000"/>
<rect x="453.3" y="186.7" width="6.6" height="7.6" fill="#000"/>
<rect x="465.4" y="191.7" width="6.6" height="7.6" fill="#000"/>
<rect x="477.5" y="195.1" width="6.6" height="7.6" fill="#000"/>
<rect x="489.5" y="196.0" width="6.6" height="7.6" fill="#000"/>
<rect x="501.6" y="197.0" width="6.6" height="7.6" fill="#000"/>
<rect x="381.4" y="44.7" width="5.6" height="6.6" fill="#fff" stroke="#222" stroke-width="1.0"/>
<rect x="393.5" y="78.4" width="5.6" height="6.6" fill="#fff" stroke="#222" stroke-width="1.0"/>
<rect x="405.5" y="109.6" width="5.6" height="6.6" fill="#fff" stroke="#222" stroke-width="1.0"/>
<rect x="417.6" y="135.9" width="5.6" height="6.6" fill="#fff" stroke="#222" stroke-width="1.0"/>
<rect x="429.7" y="154.2" width="5.6" height="6.6" fill="#fff" stroke="#222" stroke-width="1.0"/>
<rect x="441.7" y="166.0" width="5.6" height="6.6" fill="#fff" stroke="#222" stroke-width="1.0"/>
<rect x="453.8" y="174.3" width="5.6" height="6.6" fill="#fff" stroke="#222" stroke-width="1.0"/>
<rect x="465.9" y="179.8" width="5.6" height="6.6" fill="#fff" stroke="#222" stroke-width="1.0"/>
<rect x="478.0" y="183.7" width="5.6" height="6.6" fill="#fff" stroke="#222" stroke-width="1.0"/>
<rect x="490.0" y="185.7" width="5.6" height="6.6" fill="#fff" stroke="#222" stroke-width="1.0"/>
<rect x="502.1" y="187.4" width="5.6" height="6.6" fill="#fff" stroke="#222" stroke-width="1.0"/>
<path d="M335.9,14.6 L340.2,24.6 L331.6,24.6Z" fill="#000"/>
<path d="M348.0,16.2 L352.3,26.2 L343.7,26.2Z" fill="#000"/>
<path d="M360.0,18.5 L364.3,28.5 L355.7,28.5Z" fill="#000"/>
<path d="M372.1,20.8 L376.4,30.8 L367.8,30.8Z" fill="#000"/>
<path d="M384.2,22.6 L388.5,32.6 L379.9,32.6Z" fill="#000"/>
<path d="M396.3,24.5 L400.6,34.5 L392.0,34.5Z" fill="#000"/>
<path d="M408.3,27.0 L412.6,37.0 L404.0,37.0Z" fill="#000"/>
<path d="M420.4,30.0 L424.7,40.0 L416.1,40.0Z" fill="#000"/>
<path d="M432.5,36.0 L436.8,46.0 L428.2,46.0Z" fill="#000"/>
<path d="M444.5,61.9 L448.8,71.9 L440.2,71.9Z" fill="#000"/>
<path d="M456.6,92.6 L460.9,102.6 L452.3,102.6Z" fill="#000"/>
<path d="M468.7,119.5 L473.0,129.5 L464.4,129.5Z" fill="#000"/>
<path d="M480.8,142.5 L485.1,152.5 L476.5,152.5Z" fill="#000"/>
<path d="M492.8,161.5 L497.1,171.5 L488.5,171.5Z" fill="#000"/>
<path d="M504.9,175.0 L509.2,185.0 L500.6,185.0Z" fill="#000"/>
<path d="M517.0,182.4 L521.3,192.4 L512.7,192.4Z" fill="#000"/>
<path d="M529.1,187.3 L533.4,197.3 L524.8,197.3Z" fill="#000"/>
<path d="M541.1,189.6 L545.4,199.6 L536.8,199.6Z" fill="#000"/>
<path d="M335.9,15.0 L339.5,24.1 L332.3,24.1Z" fill="#fff" stroke="#111" stroke-width="1.0" stroke-linejoin="miter"/>
<path d="M348.0,16.3 L351.6,25.4 L344.4,25.4Z" fill="#fff" stroke="#111" stroke-width="1.0" stroke-linejoin="miter"/>
<path d="M360.0,18.6 L363.6,27.7 L356.4,27.7Z" fill="#fff" stroke="#111" stroke-width="1.0" stroke-linejoin="miter"/>
<path d="M372.1,20.9 L375.7,30.0 L368.5,30.0Z" fill="#fff" stroke="#111" stroke-width="1.0" stroke-linejoin="miter"/>
<path d="M384.2,22.7 L387.8,31.8 L380.6,31.8Z" fill="#fff" stroke="#111" stroke-width="1.0" stroke-linejoin="miter"/>
<path d="M396.3,24.7 L399.9,33.8 L392.7,33.8Z" fill="#fff" stroke="#111" stroke-width="1.0" stroke-linejoin="miter"/>
<path d="M408.3,27.5 L411.9,36.6 L404.7,36.6Z" fill="#fff" stroke="#111" stroke-width="1.0" stroke-linejoin="miter"/>
<path d="M420.4,30.8 L424.0,39.9 L416.8,39.9Z" fill="#fff" stroke="#111" stroke-width="1.0" stroke-linejoin="miter"/>
<path d="M432.5,42.9 L436.1,52.0 L428.9,52.0Z" fill="#fff" stroke="#111" stroke-width="1.0" stroke-linejoin="miter"/>
<path d="M444.5,75.2 L448.1,84.3 L440.9,84.3Z" fill="#fff" stroke="#111" stroke-width="1.0" stroke-linejoin="miter"/>
<path d="M456.6,105.1 L460.2,114.2 L453.0,114.2Z" fill="#fff" stroke="#111" stroke-width="1.0" stroke-linejoin="miter"/>
<path d="M468.7,129.9 L472.3,139.0 L465.1,139.0Z" fill="#fff" stroke="#111" stroke-width="1.0" stroke-linejoin="miter"/>
<path d="M480.8,149.4 L484.4,158.5 L477.2,158.5Z" fill="#fff" stroke="#111" stroke-width="1.0" stroke-linejoin="miter"/>
<path d="M492.8,161.9 L496.4,171.0 L489.2,171.0Z" fill="#fff" stroke="#111" stroke-width="1.0" stroke-linejoin="miter"/>
<path d="M504.9,170.0 L508.5,179.1 L501.3,179.1Z" fill="#fff" stroke="#111" stroke-width="1.0" stroke-linejoin="miter"/>
<path d="M517.0,175.6 L520.6,184.7 L513.4,184.7Z" fill="#fff" stroke="#111" stroke-width="1.0" stroke-linejoin="miter"/>
<path d="M529.1,179.4 L532.7,188.5 L525.5,188.5Z" fill="#fff" stroke="#111" stroke-width="1.0" stroke-linejoin="miter"/>
<path d="M541.1,182.1 L544.7,191.2 L537.5,191.2Z" fill="#fff" stroke="#111" stroke-width="1.0" stroke-linejoin="miter"/>
<rect x="333.1" y="16.3" width="5.6" height="6.6" fill="#fff" stroke="#222" stroke-width="1.0"/>
<path d="M335.9,19.6 L336.6,21.4 L337.3,23.3 L337.9,25.1 L338.6,27.0 L339.3,28.9 L340.0,30.8 L340.7,32.8 L341.4,34.8 L342.0,36.8 L342.7,38.8 L343.4,40.8 L344.1,42.9 L344.8,44.9 L345.5,47.1 L346.1,49.2 L346.8,51.4 L347.5,53.7 L348.2,56.0 L348.9,58.3 L349.5,60.7 L350.2,63.0 L350.9,65.3 L351.6,67.6 L352.3,69.8 L353.0,72.0 L353.6,74.2 L354.3,76.3 L355.0,78.3 L355.7,80.3 L356.4,82.3 L357.1,84.2 L357.7,86.1 L358.4,88.0 L359.1,89.9 L359.8,91.8 L360.5,93.7 L361.2,95.5 L361.8,97.4 L362.5,99.3 L363.2,101.2 L363.9,103.1 L364.6,105.0 L365.2,106.9 L365.9,108.8 L366.6,110.7 L367.3,112.6 L368.0,114.4 L368.7,116.3 L369.3,118.2 L370.0,120.0 L370.7,121.9 L371.4,123.7 L372.1,125.5 L372.8,127.3 L373.4,129.1 L374.1,130.9 L374.8,132.7 L375.5,134.5 L376.2,136.3 L376.8,138.1 L377.5,139.9 L378.2,141.6 L378.9,143.2 L379.6,144.9 L380.3,146.4 L380.9,147.9 L381.6,149.4 L382.3,150.8 L383.0,152.1 L383.7,153.5 L384.4,154.8 L385.0,156.1 L385.7,157.4 L386.4,158.6 L387.1,159.8 L387.8,161.0 L388.4,162.1 L389.1,163.2 L389.8,164.3 L390.5,165.3 L391.2,166.3 L391.9,167.3 L392.5,168.3 L393.2,169.2 L393.9,170.1 L394.6,171.0 L395.3,171.9 L396.0,172.7 L396.6,173.5 L397.3,174.3 L398.0,175.1 L398.7,175.9 L399.4,176.6 L400.1,177.3 L400.7,178.0 L401.4,178.7 L402.1,179.4 L402.8,180.0 L403.5,180.6 L404.1,181.3 L404.8,181.9 L405.5,182.4 L406.2,183.0 L406.9,183.5 L407.6,184.0 L408.2,184.5 L408.9,185.0 L409.6,185.5 L410.3,186.0 L411.0,186.5 L411.7,187.0 L412.3,187.4 L413.0,187.8 L413.7,188.3 L414.4,188.6 L415.1,189.0 L415.7,189.3 L416.4,189.5 L417.1,189.7 L417.8,189.9 L418.5,190.0 L419.2,190.1 L419.8,190.2 L420.5,190.3 L421.2,190.4 L421.9,190.5 L422.6,190.5 L423.3,190.6 L423.9,190.7 L424.6,190.8 L425.3,190.8 L426.0,190.9 L426.7,191.0 L427.3,191.1 L428.0,191.3 L428.7,191.4 L429.4,191.5 L430.1,191.6 L430.8,191.8 L431.4,191.9 L432.1,192.0 L432.8,192.1 L433.5,192.3 L434.2,192.4 L434.9,192.5 L435.5,192.6 L436.2,192.7 L436.9,192.8 L437.6,192.9 L438.3,193.0 L439.0,193.1 L439.6,193.2 L440.3,193.3 L441.0,193.4 L441.7,193.5 L442.4,193.5 L443.0,193.6 L443.7,193.7 L444.4,193.8 L445.1,193.9 L445.8,193.9 L446.5,194.0 L447.1,194.1 L447.8,194.2 L448.5,194.2 L449.2,194.3 L449.9,194.4 L450.6,194.4 L451.2,194.5 L451.9,194.6 L452.6,194.6 L453.3,194.7 L454.0,194.7 L454.6,194.8 L455.3,194.8 L456.0,194.9 L456.7,195.0 L457.4,195.0 L458.1,195.1 L458.7,195.1 L459.4,195.2 L460.1,195.2 L460.8,195.3 L461.5,195.3 L462.2,195.4 L462.8,195.4 L463.5,195.5 L464.2,195.5 L464.9,195.6 L465.6,195.6 L466.3,195.6 L466.9,195.7 L467.6,195.7 L468.3,195.8 L469.0,195.8 L469.7,195.9 L470.3,195.9 L471.0,196.0 L471.7,196.0" fill="none" stroke="#000" stroke-width="1.3" stroke-linejoin="round"/>
<path d="M335.9,19.6 L336.6,21.4 L337.3,23.3 L337.9,25.2 L338.6,27.2 L339.3,29.2 L340.0,31.3 L340.7,33.4 L341.4,35.6 L342.0,37.7 L342.7,40.0 L343.4,42.2 L344.1,44.5 L344.8,46.9 L345.5,49.3 L346.1,51.8 L346.8,54.5 L347.5,57.2 L348.2,60.0 L348.9,62.9 L349.5,65.7 L350.2,68.6 L350.9,71.4 L351.6,74.2 L352.3,76.9 L353.0,79.5 L353.6,81.9 L354.3,84.3 L355.0,86.5 L355.7,88.7 L356.4,90.9 L357.1,92.9 L357.7,95.0 L358.4,97.0 L359.1,99.0 L359.8,100.9 L360.5,102.8 L361.2,104.7 L361.8,106.6 L362.5,108.5 L363.2,110.4 L363.9,112.2 L364.6,114.1 L365.2,116.0 L365.9,117.8 L366.6,119.7 L367.3,121.5 L368.0,123.3 L368.7,125.0 L369.3,126.7 L370.0,128.4 L370.7,129.9 L371.4,131.5 L372.1,132.9 L372.8,134.3 L373.4,135.6 L374.1,136.9 L374.8,138.1 L375.5,139.3 L376.2,140.5 L376.8,141.6 L377.5,142.7 L378.2,143.8 L378.9,144.9 L379.6,146.0 L380.3,147.1 L380.9,148.2 L381.6,149.4 L382.3,150.5 L383.0,151.6 L383.7,152.8 L384.4,153.9 L385.0,155.0 L385.7,156.1 L386.4,157.2 L387.1,158.3 L387.8,159.4 L388.4,160.4 L389.1,161.4 L389.8,162.4 L390.5,163.4 L391.2,164.3 L391.9,165.3 L392.5,166.2 L393.2,167.2 L393.9,168.1 L394.6,169.0 L395.3,169.9 L396.0,170.7 L396.6,171.6 L397.3,172.4 L398.0,173.1 L398.7,173.9 L399.4,174.6 L400.1,175.3 L400.7,175.9 L401.4,176.6 L402.1,177.2 L402.8,177.8 L403.5,178.4 L404.1,179.0 L404.8,179.5 L405.5,180.1 L406.2,180.6 L406.9,181.1 L407.6,181.6 L408.2,182.1 L408.9,182.6 L409.6,183.1 L410.3,183.6 L411.0,184.0 L411.7,184.5 L412.3,184.9 L413.0,185.3 L413.7,185.8 L414.4,186.2 L415.1,186.5 L415.7,186.9 L416.4,187.3 L417.1,187.6 L417.8,187.9 L418.5,188.2 L419.2,188.5 L419.8,188.7 L420.5,189.0 L421.2,189.2 L421.9,189.5 L422.6,189.7 L423.3,189.9 L423.9,190.1 L424.6,190.4 L425.3,190.6 L426.0,190.8 L426.7,191.0 L427.3,191.2 L428.0,191.3 L428.7,191.5 L429.4,191.7 L430.1,191.9 L430.8,192.0 L431.4,192.2 L432.1,192.3 L432.8,192.5 L433.5,192.7 L434.2,192.8 L434.9,193.0 L435.5,193.1 L436.2,193.3 L436.9,193.4 L437.6,193.6 L438.3,193.7 L439.0,193.9 L439.6,194.0 L440.3,194.1 L441.0,194.3 L441.7,194.4 L442.4,194.5 L443.0,194.7 L443.7,194.8 L444.4,194.9 L445.1,195.0 L445.8,195.1 L446.5,195.1 L447.1,195.2 L447.8,195.3 L448.5,195.4 L449.2,195.4 L449.9,195.5 L450.6,195.6 L451.2,195.6 L451.9,195.7 L452.6,195.8 L453.3,195.9 L454.0,195.9 L454.6,196.0 L455.3,196.1 L456.0,196.2 L456.7,196.3 L457.4,196.4 L458.1,196.5 L458.7,196.6 L459.4,196.7 L460.1,196.8 L460.8,196.9 L461.5,197.0 L462.2,197.1 L462.8,197.2 L463.5,197.3 L464.2,197.4 L464.9,197.5 L465.6,197.6 L466.3,197.7 L466.9,197.8 L467.6,197.9 L468.3,198.0 L469.0,198.1 L469.7,198.2 L470.3,198.3 L471.0,198.4 L471.7,198.5" fill="none" stroke="#000" stroke-width="1.3" stroke-linejoin="round"/>
<path d="M335.9,21.0 L336.7,21.1 L337.6,21.2 L338.4,21.3 L339.3,21.4 L340.1,21.5 L341.0,21.7 L341.8,21.8 L342.7,21.9 L343.5,22.0 L344.4,22.1 L345.2,22.2 L346.1,22.3 L346.9,22.5 L347.8,22.6 L348.6,22.7 L349.5,22.8 L350.3,22.9 L351.2,23.0 L352.0,23.1 L352.9,23.3 L353.7,23.4 L354.6,23.5 L355.4,23.6 L356.3,23.7 L357.1,23.9 L358.0,24.0 L358.8,24.2 L359.7,24.3 L360.5,24.5 L361.4,24.7 L362.2,24.9 L363.1,25.1 L363.9,25.3 L364.8,25.5 L365.6,25.8 L366.5,26.2 L367.3,26.6 L368.2,27.1 L369.0,27.6 L369.9,28.2 L370.7,28.8 L371.6,29.5 L372.4,30.2 L373.3,30.9 L374.1,31.7 L375.0,32.5 L375.8,33.4 L376.7,34.3 L377.5,35.2 L378.4,36.1 L379.2,37.1 L380.1,38.2 L380.9,39.2 L381.8,40.2 L382.6,41.1 L383.5,42.1 L384.3,43.2 L385.2,44.6 L386.0,46.1 L386.9,47.9 L387.7,49.8 L388.6,51.8 L389.4,54.0 L390.3,56.2 L391.1,58.5 L392.0,60.8 L392.8,63.2 L393.7,65.5 L394.5,67.8 L395.4,70.1 L396.2,72.2 L397.0,74.4 L397.9,76.6 L398.7,78.8 L399.6,80.9 L400.4,83.1 L401.3,85.3 L402.1,87.4 L403.0,89.4 L403.8,91.5 L404.7,93.5 L405.5,95.5 L406.4,97.6 L407.2,99.7 L408.1,101.9 L408.9,104.1 L409.8,106.4 L410.6,108.7 L411.5,111.2 L412.3,113.6 L413.2,116.1 L414.0,118.5 L414.9,121.0 L415.7,123.5 L416.6,125.9 L417.4,128.3 L418.3,130.7 L419.1,133.0 L420.0,135.2 L420.8,137.4 L421.7,139.5 L422.5,141.7 L423.4,143.8 L424.2,146.0 L425.1,148.1 L425.9,150.1 L426.8,152.2 L427.6,154.2 L428.5,156.1 L429.3,157.9 L430.2,159.7 L431.0,161.4 L431.9,162.9 L432.7,164.4 L433.6,165.8 L434.4,167.2 L435.3,168.5 L436.1,169.8 L437.0,171.1 L437.8,172.3 L438.7,173.4 L439.5,174.5 L440.4,175.6 L441.2,176.7 L442.1,177.7 L442.9,178.6 L443.8,179.6 L444.6,180.5 L445.5,181.3 L446.3,182.2 L447.2,183.0 L448.0,183.8 L448.9,184.6 L449.7,185.4 L450.6,186.2 L451.4,186.9 L452.3,187.5 L453.1,188.2 L454.0,188.8 L454.8,189.4 L455.6,189.9 L456.5,190.4 L457.3,190.9 L458.2,191.3 L459.0,191.8 L459.9,192.2 L460.7,192.5 L461.6,192.9 L462.4,193.2 L463.3,193.6 L464.1,193.9 L465.0,194.2 L465.8,194.5 L466.7,194.8 L467.5,195.1 L468.4,195.4 L469.2,195.7 L470.1,196.0 L470.9,196.3 L471.8,196.6 L472.6,196.8 L473.5,197.1 L474.3,197.4 L475.2,197.7 L476.0,197.9 L476.9,198.1 L477.7,198.4 L478.6,198.5 L479.4,198.7 L480.3,198.8 L481.1,198.9 L482.0,199.0 L482.8,199.1 L483.7,199.2 L484.5,199.3 L485.4,199.3 L486.2,199.4 L487.1,199.4 L487.9,199.5 L488.8,199.5 L489.6,199.6 L490.5,199.6 L491.3,199.7 L492.2,199.7 L493.0,199.8 L493.9,199.9 L494.7,199.9 L495.6,200.0 L496.4,200.1 L497.3,200.2 L498.1,200.2 L499.0,200.3 L499.8,200.4 L500.7,200.4 L501.5,200.5 L502.4,200.6 L503.2,200.7 L504.1,200.7 L504.9,200.8" fill="none" stroke="#000" stroke-width="1.3" stroke-linejoin="round"/>
<path d="M335.9,21.6 L336.7,21.7 L337.6,21.8 L338.4,21.9 L339.3,22.0 L340.1,22.1 L341.0,22.3 L341.8,22.4 L342.7,22.5 L343.5,22.6 L344.4,22.7 L345.2,22.8 L346.1,22.9 L346.9,23.1 L347.8,23.2 L348.6,23.3 L349.5,23.4 L350.3,23.5 L351.2,23.6 L352.0,23.7 L352.9,23.8 L353.7,24.0 L354.6,24.1 L355.4,24.2 L356.3,24.3 L357.1,24.5 L358.0,24.6 L358.8,24.8 L359.7,24.9 L360.5,25.1 L361.4,25.3 L362.2,25.5 L363.1,25.7 L363.9,26.0 L364.8,26.3 L365.6,26.6 L366.5,27.0 L367.3,27.5 L368.2,28.1 L369.0,28.8 L369.9,29.6 L370.7,30.4 L371.6,31.3 L372.4,32.2 L373.3,33.3 L374.1,34.6 L375.0,36.0 L375.8,37.5 L376.7,38.9 L377.5,40.3 L378.4,41.6 L379.2,42.9 L380.1,44.2 L380.9,45.5 L381.8,46.8 L382.6,47.9 L383.5,49.1 L384.3,50.4 L385.2,52.0 L386.0,53.7 L386.9,55.7 L387.7,57.7 L388.6,59.9 L389.4,62.1 L390.3,64.5 L391.1,66.8 L392.0,69.2 L392.8,71.6 L393.7,74.0 L394.5,76.3 L395.4,78.5 L396.2,80.7 L397.0,82.7 L397.9,84.8 L398.7,86.8 L399.6,88.9 L400.4,90.9 L401.3,92.9 L402.1,94.9 L403.0,96.9 L403.8,98.9 L404.7,100.9 L405.5,102.9 L406.4,104.9 L407.2,106.9 L408.1,108.9 L408.9,110.9 L409.8,113.0 L410.6,115.1 L411.5,117.2 L412.3,119.4 L413.2,121.5 L414.0,123.6 L414.9,125.7 L415.7,127.8 L416.6,129.8 L417.4,131.7 L418.3,133.6 L419.1,135.4 L420.0,137.2 L420.8,138.8 L421.7,140.4 L422.5,142.0 L423.4,143.5 L424.2,145.0 L425.1,146.5 L425.9,148.0 L426.8,149.4 L427.6,150.7 L428.5,152.0 L429.3,153.3 L430.2,154.5 L431.0,155.6 L431.9,156.7 L432.7,157.8 L433.6,158.8 L434.4,159.8 L435.3,160.7 L436.1,161.6 L437.0,162.5 L437.8,163.3 L438.7,164.2 L439.5,165.0 L440.4,165.7 L441.2,166.5 L442.1,167.2 L442.9,168.0 L443.8,168.7 L444.6,169.3 L445.5,170.0 L446.3,170.7 L447.2,171.3 L448.0,172.0 L448.9,172.6 L449.7,173.2 L450.6,173.8 L451.4,174.4 L452.3,175.0 L453.1,175.5 L454.0,176.0 L454.8,176.6 L455.6,177.1 L456.5,177.5 L457.3,178.0 L458.2,178.4 L459.0,178.9 L459.9,179.3 L460.7,179.7 L461.6,180.1 L462.4,180.5 L463.3,180.9 L464.1,181.3 L465.0,181.6 L465.8,182.0 L466.7,182.3 L467.5,182.7 L468.4,183.0 L469.2,183.3 L470.1,183.6 L470.9,183.9 L471.8,184.3 L472.6,184.6 L473.5,184.9 L474.3,185.2 L475.2,185.4 L476.0,185.7 L476.9,186.0 L477.7,186.2 L478.6,186.5 L479.4,186.7 L480.3,186.9 L481.1,187.1 L482.0,187.3 L482.8,187.4 L483.7,187.6 L484.5,187.7 L485.4,187.9 L486.2,188.0 L487.1,188.1 L487.9,188.3 L488.8,188.4 L489.6,188.5 L490.5,188.6 L491.3,188.8 L492.2,188.9 L493.0,189.0 L493.9,189.2 L494.7,189.3 L495.6,189.4 L496.4,189.5 L497.3,189.7 L498.1,189.8 L499.0,189.9 L499.8,190.0 L500.7,190.1 L501.5,190.3 L502.4,190.4 L503.2,190.5 L504.1,190.6 L504.9,190.7" fill="none" stroke="#000" stroke-width="1.3" stroke-linejoin="round"/>
<path d="M335.9,21.0 L336.9,21.1 L338.0,21.2 L339.0,21.3 L340.0,21.5 L341.1,21.6 L342.1,21.7 L343.1,21.8 L344.2,21.9 L345.2,22.1 L346.2,22.2 L347.2,22.3 L348.3,22.4 L349.3,22.6 L350.3,22.7 L351.4,22.8 L352.4,22.9 L353.4,23.1 L354.5,23.2 L355.5,23.4 L356.5,23.5 L357.6,23.6 L358.6,23.8 L359.6,23.9 L360.7,24.1 L361.7,24.3 L362.7,24.4 L363.7,24.6 L364.8,24.8 L365.8,25.0 L366.8,25.2 L367.9,25.4 L368.9,25.6 L369.9,25.8 L371.0,26.0 L372.0,26.2 L373.0,26.4 L374.1,26.5 L375.1,26.7 L376.1,26.9 L377.2,27.1 L378.2,27.2 L379.2,27.4 L380.2,27.6 L381.3,27.7 L382.3,27.9 L383.3,28.1 L384.4,28.2 L385.4,28.4 L386.4,28.5 L387.5,28.7 L388.5,28.9 L389.5,29.0 L390.6,29.2 L391.6,29.3 L392.6,29.5 L393.7,29.6 L394.7,29.8 L395.7,29.9 L396.7,30.1 L397.8,30.2 L398.8,30.4 L399.8,30.5 L400.9,30.6 L401.9,30.8 L402.9,30.9 L404.0,31.0 L405.0,31.2 L406.0,31.4 L407.1,31.5 L408.1,31.7 L409.1,32.0 L410.2,32.2 L411.2,32.5 L412.2,32.9 L413.2,33.2 L414.3,33.6 L415.3,34.0 L416.3,34.5 L417.4,35.0 L418.4,35.5 L419.4,36.2 L420.5,36.8 L421.5,37.6 L422.5,38.5 L423.6,39.4 L424.6,40.4 L425.6,41.5 L426.7,42.7 L427.7,44.0 L428.7,45.4 L429.7,46.8 L430.8,48.2 L431.8,49.7 L432.8,51.4 L433.9,53.2 L434.9,55.1 L435.9,57.2 L437.0,59.4 L438.0,61.7 L439.0,64.1 L440.1,66.4 L441.1,68.8 L442.1,71.2 L443.2,73.5 L444.2,75.8 L445.2,78.0 L446.2,80.2 L447.3,82.4 L448.3,84.7 L449.3,86.9 L450.4,89.0 L451.4,91.2 L452.4,93.4 L453.5,95.5 L454.5,97.6 L455.5,99.7 L456.6,101.7 L457.6,103.8 L458.6,105.8 L459.7,107.8 L460.7,109.8 L461.7,111.8 L462.7,113.8 L463.8,115.7 L464.8,117.7 L465.8,119.6 L466.9,121.4 L467.9,123.3 L468.9,125.3 L470.0,127.2 L471.0,129.1 L472.0,131.1 L473.1,133.1 L474.1,135.0 L475.1,137.0 L476.2,139.0 L477.2,140.9 L478.2,142.8 L479.2,144.6 L480.3,146.5 L481.3,148.2 L482.3,150.0 L483.4,151.8 L484.4,153.5 L485.4,155.3 L486.5,157.0 L487.5,158.6 L488.5,160.3 L489.6,161.9 L490.6,163.4 L491.6,164.9 L492.7,166.3 L493.7,167.6 L494.7,168.9 L495.7,170.3 L496.8,171.5 L497.8,172.8 L498.8,174.0 L499.9,175.2 L500.9,176.3 L501.9,177.3 L503.0,178.3 L504.0,179.2 L505.0,180.1 L506.1,180.9 L507.1,181.6 L508.1,182.4 L509.2,183.0 L510.2,183.7 L511.2,184.3 L512.2,184.9 L513.3,185.5 L514.3,186.0 L515.3,186.6 L516.4,187.1 L517.4,187.6 L518.4,188.1 L519.5,188.6 L520.5,189.1 L521.5,189.5 L522.6,190.0 L523.6,190.4 L524.6,190.8 L525.7,191.2 L526.7,191.6 L527.7,191.9 L528.7,192.2 L529.8,192.5 L530.8,192.7 L531.8,193.0 L532.9,193.2 L533.9,193.5 L534.9,193.7 L536.0,193.9 L537.0,194.1 L538.0,194.2 L539.1,194.4 L540.1,194.5 L541.1,194.6" fill="none" stroke="#000" stroke-width="1.3" stroke-linejoin="round"/>
<path d="M335.9,21.6 L336.9,21.7 L338.0,21.8 L339.0,21.9 L340.0,22.0 L341.1,22.2 L342.1,22.3 L343.1,22.4 L344.2,22.5 L345.2,22.6 L346.2,22.8 L347.2,22.9 L348.3,23.0 L349.3,23.2 L350.3,23.3 L351.4,23.5 L352.4,23.6 L353.4,23.8 L354.5,23.9 L355.5,24.1 L356.5,24.2 L357.6,24.4 L358.6,24.6 L359.6,24.7 L360.7,24.9 L361.7,25.1 L362.7,25.3 L363.7,25.4 L364.8,25.6 L365.8,25.8 L366.8,26.0 L367.9,26.2 L368.9,26.4 L369.9,26.6 L371.0,26.8 L372.0,27.0 L373.0,27.2 L374.1,27.3 L375.1,27.5 L376.1,27.7 L377.2,27.9 L378.2,28.0 L379.2,28.2 L380.2,28.4 L381.3,28.5 L382.3,28.7 L383.3,28.9 L384.4,29.0 L385.4,29.2 L386.4,29.3 L387.5,29.5 L388.5,29.6 L389.5,29.8 L390.6,29.9 L391.6,30.1 L392.6,30.2 L393.7,30.4 L394.7,30.6 L395.7,30.7 L396.7,30.9 L397.8,31.0 L398.8,31.2 L399.8,31.3 L400.9,31.5 L401.9,31.6 L402.9,31.8 L404.0,31.9 L405.0,32.1 L406.0,32.3 L407.1,32.5 L408.1,32.7 L409.1,33.0 L410.2,33.3 L411.2,33.7 L412.2,34.1 L413.2,34.5 L414.3,35.0 L415.3,35.5 L416.3,36.1 L417.4,36.7 L418.4,37.4 L419.4,38.2 L420.5,39.1 L421.5,40.1 L422.5,41.4 L423.6,42.9 L424.6,44.4 L425.6,46.0 L426.7,47.7 L427.7,49.5 L428.7,51.3 L429.7,53.1 L430.8,54.7 L431.8,56.4 L432.8,58.1 L433.9,60.1 L434.9,62.1 L435.9,64.2 L437.0,66.5 L438.0,68.7 L439.0,71.0 L440.1,73.4 L441.1,75.7 L442.1,78.1 L443.2,80.4 L444.2,82.6 L445.2,84.8 L446.2,87.0 L447.3,89.2 L448.3,91.4 L449.3,93.6 L450.4,95.8 L451.4,98.0 L452.4,100.2 L453.5,102.3 L454.5,104.4 L455.5,106.5 L456.6,108.6 L457.6,110.7 L458.6,112.8 L459.7,114.8 L460.7,116.8 L461.7,118.8 L462.7,120.8 L463.8,122.7 L464.8,124.6 L465.8,126.4 L466.9,128.2 L467.9,130.0 L468.9,131.8 L470.0,133.7 L471.0,135.6 L472.0,137.6 L473.1,139.6 L474.1,141.5 L475.1,143.5 L476.2,145.4 L477.2,147.2 L478.2,149.0 L479.2,150.7 L480.3,152.3 L481.3,153.8 L482.3,155.2 L483.4,156.6 L484.4,158.0 L485.4,159.3 L486.5,160.6 L487.5,161.9 L488.5,163.0 L489.6,164.2 L490.6,165.3 L491.6,166.3 L492.7,167.3 L493.7,168.3 L494.7,169.2 L495.7,170.1 L496.8,170.9 L497.8,171.8 L498.8,172.6 L499.9,173.3 L500.9,174.1 L501.9,174.8 L503.0,175.4 L504.0,176.1 L505.0,176.7 L506.1,177.2 L507.1,177.8 L508.1,178.3 L509.2,178.9 L510.2,179.4 L511.2,179.8 L512.2,180.3 L513.3,180.7 L514.3,181.2 L515.3,181.6 L516.4,182.0 L517.4,182.4 L518.4,182.7 L519.5,183.1 L520.5,183.4 L521.5,183.8 L522.6,184.1 L523.6,184.4 L524.6,184.7 L525.7,185.0 L526.7,185.3 L527.7,185.5 L528.7,185.7 L529.8,185.9 L530.8,186.1 L531.8,186.3 L532.9,186.5 L533.9,186.6 L534.9,186.8 L536.0,186.9 L537.0,187.0 L538.0,187.2 L539.1,187.3 L540.1,187.3 L541.1,187.4" fill="none" stroke="#000" stroke-width="1.3" stroke-linejoin="round"/>
</g>
</svg>
</body></html>
